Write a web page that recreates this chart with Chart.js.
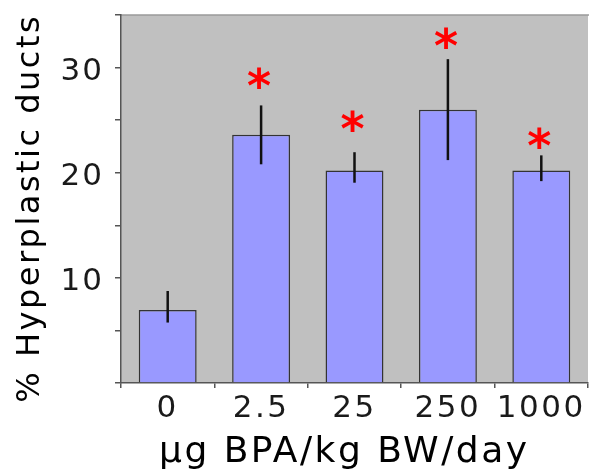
<!DOCTYPE html>
<html><head><meta charset="utf-8">
<script src="https://cdn.jsdelivr.net/npm/chart.js@4/dist/chart.umd.min.js"></script>
<style>html,body{margin:0;padding:0;background:#fff}#wrap{width:589px;height:472px;position:relative}</style>
</head><body><div id="wrap"><canvas id="c" width="589" height="472"></canvas></div>
<script>
const categories = ['0', '2.5', '25', '250', '1000'];
const means = [6.95, 23.6, 20.2, 26.0, 20.2];
const errLow = [5.75, 20.8, 19.05, 21.2, 19.2];
const errHigh = [8.75, 26.4, 21.95, 30.8, 21.65];
const starY = [null, 29.0, 24.9, 32.8, 23.3];
const yLabelValues = [10, 20, 30];
const yTitle = '% Hyperplastic ducts';
const xTitle = 'µg BPA/kg BW/day';

const FONT = 'DejaVu Sans';

const decor = {
  id: 'decor',
  beforeDraw(chart) {
    const {ctx, chartArea: a} = chart;
    ctx.save();
    ctx.fillStyle = '#c0c0c0';
    ctx.fillRect(a.left, a.top, a.right - a.left, a.bottom - a.top);
    ctx.strokeStyle = '#9a9a9a';
    ctx.lineWidth = 1.5;
    ctx.beginPath();
    ctx.moveTo(a.left, a.top);
    ctx.lineTo(a.right + 1, a.top);
    ctx.stroke();
    ctx.restore();
    ctx.letterSpacing = '2.5px';
  },
  afterDatasetsDraw(chart) {
    const {ctx} = chart;
    const xs = chart.scales.x, ys = chart.scales.y;
    ctx.save();
    ctx.letterSpacing = '0px';
    ctx.strokeStyle = '#111';
    ctx.lineWidth = 2.5;
    ctx.lineCap = 'butt';
    for (let i = 0; i < categories.length; i++) {
      const x = xs.getPixelForValue(i);
      ctx.beginPath();
      ctx.moveTo(x, ys.getPixelForValue(errHigh[i]));
      ctx.lineTo(x, ys.getPixelForValue(errLow[i]));
      ctx.stroke();
    }
    ctx.fillStyle = '#ff0000';
    ctx.font = 'bold 46px "' + FONT + '"';
    ctx.textAlign = 'left';
    ctx.textBaseline = 'alphabetic';
    const m = ctx.measureText('*');
    const gw = m.actualBoundingBoxLeft + m.actualBoundingBoxRight;
    const gc = (m.actualBoundingBoxAscent - m.actualBoundingBoxDescent) / 2;
    for (let i = 0; i < categories.length; i++) {
      if (starY[i] == null) continue;
      const x = xs.getPixelForValue(i) - 2;
      const y = ys.getPixelForValue(starY[i]);
      ctx.fillText('*', x - gw / 2 + m.actualBoundingBoxLeft, y + gc);
    }
    ctx.restore();
    ctx.letterSpacing = '2px';
  }
};

new Chart(document.getElementById('c'), {
  type: 'bar',
  data: {
    labels: categories,
    datasets: [{
      data: means,
      backgroundColor: '#9999ff',
      borderColor: '#333333',
      borderWidth: 1.5,
      barPercentage: 0.62,
      categoryPercentage: 1.0
    }]
  },
  options: {
    responsive: false,
    animation: false,
    devicePixelRatio: 1,
    layout: {padding: {top: 15, right: 1, left: 0, bottom: 0}},
    plugins: {legend: {display: false}, tooltip: {enabled: false}},
    scales: {
      x: {
        offset: true,
        grid: {offset: true, drawOnChartArea: false, tickLength: 5, color: '#555', lineWidth: 1.5},
        border: {color: '#555', width: 1.5},
        ticks: {font: {family: FONT, size: 31, lineHeight: 1}, color: '#1a1a1a', padding: 5, maxRotation: 0, autoSkip: false},
        title: {display: true, text: xTitle + '\u2002', color: '#000', font: {family: FONT, size: 36, lineHeight: 1}, padding: {top: 0, bottom: 1}},
        afterFit: s => { s.height = 89; s.paddingLeft = 0; s.paddingRight = 0; }
      },
      y: {
        min: 0, max: 35,
        grid: {drawOnChartArea: false, tickLength: 6, color: '#555', lineWidth: 1.5},
        border: {color: '#555', width: 1.5},
        ticks: {
          stepSize: 5, autoSkip: false, z: 1, labelOffset: 4,
          callback: v => yLabelValues.includes(v) ? String(v) : '',
          font: {family: FONT, size: 31, lineHeight: 1}, color: '#1a1a1a', padding: 11
        },
        title: {display: true, text: yTitle + '\u2002', color: '#000', font: {family: FONT, size: 32, lineHeight: 1}, padding: {top: 15, bottom: 0}},
        afterFit: s => { s.width = 121; s.paddingTop = 0; s.paddingBottom = 0; }
      }
    }
  },
  plugins: [decor]
});
</script></body></html>
